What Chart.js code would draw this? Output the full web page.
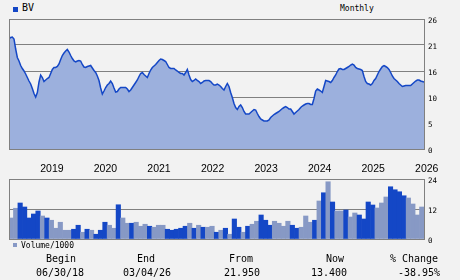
<!DOCTYPE html>
<html>
<head>
<meta charset="utf-8">
<script src="https://cdn.jsdelivr.net/npm/chart.js@4.4.1/dist/chart.umd.min.js"></script>
<style>
  body { margin: 0; background: #f2f2f2; width: 460px; height: 280px; overflow: hidden; position: relative; font-family: 'DejaVu Sans Mono', monospace; color: #000; }
  canvas { position: absolute; left: 0; }
  .t { position: absolute; white-space: nowrap; }
  .sq { position: absolute; width: 5px; height: 5px; }
  .col { position: absolute; width: 100px; text-align: center; font-size: 10px; line-height: 10px; }
</style>
</head>
<body>
<div class="sq" style="left:13px;top:7px;background:#1447c6"></div>
<div class="t" style="left:22px;top:3px;font-size:10px;line-height:10px">BV</div>
<div class="t" style="left:340px;top:5px;font-size:8px;line-height:8px">Monthly</div>

<canvas id="priceChart" width="460" height="180" style="top:0"></canvas>
<canvas id="volChart" width="460" height="80" style="top:170px"></canvas>

<div class="sq" style="left:13px;top:243px;width:4px;height:4px;background:#8799c5"></div>
<div class="t" style="left:21px;top:242px;font-size:8px;line-height:8px">Volume/1000</div>

<div class="col" style="left:11px;top:254px">Begin</div>
<div class="col" style="left:96px;top:254px">End</div>
<div class="col" style="left:191px;top:254px">From</div>
<div class="col" style="left:285px;top:254px">Now</div>
<div class="col" style="left:364px;top:254px">% Change</div>
<div class="col" style="left:10px;top:268px">06/30/18</div>
<div class="col" style="left:97px;top:268px">03/04/26</div>
<div class="col" style="left:192px;top:268px">21.950</div>
<div class="col" style="left:279px;top:268px">13.400</div>
<div class="col" style="left:369px;top:268px">-38.95%</div>

<script>
// price, sampled evenly from 06/30/18 (month 0) to 03/04/26 (month 93)
const price = [
  22.0, 22.3, 22.4, 22.0, 20.0, 18.3, 17.6, 16.7, 16.1, 15.6,
  15.0, 14.3, 13.6, 13.0, 12.1, 11.1, 10.4, 11.3, 13.4, 14.8,
  14.3, 13.5, 13.8, 14.1, 14.3, 15.1, 15.9, 16.3, 16.3, 16.5,
  17.0, 17.9, 18.7, 19.2, 19.6, 19.9, 19.4, 18.7, 18.1, 17.6,
  17.4, 17.6, 17.7, 17.6, 16.9, 16.4, 16.3, 16.5, 16.6, 16.7,
  16.2, 15.7, 15.3, 14.6, 13.7, 12.2, 11.0, 11.6, 12.3, 12.8,
  13.1, 13.6, 13.1, 12.2, 11.4, 11.5, 12.0, 12.3, 12.3, 12.3,
  12.3, 12.0, 11.5, 11.8, 12.3, 12.8, 13.3, 13.8, 14.5, 15.1,
  15.3, 14.9, 14.6, 14.3, 15.1,
  15.8, 16.3, 16.6, 16.9, 17.3, 17.7, 18.0, 17.9, 17.7, 17.5,
  16.9, 16.3, 16.1, 16.1, 16.1, 15.8, 15.6, 15.3, 15.1, 15.1,
  14.8, 15.3, 15.9, 14.8, 13.9, 13.5, 13.7, 14.0, 13.7, 13.5,
  13.1, 13.3, 13.6, 13.7, 13.7, 13.7, 13.5, 13.1, 12.8, 12.8,
  13.0, 12.8, 12.5, 12.1, 11.8, 12.5, 13.1, 12.5, 11.3, 10.3,
  9.1, 8.3, 7.9, 8.5, 8.8, 8.3, 7.5, 7.0, 7.0, 7.0,
  7.3, 7.6, 7.9, 7.8, 7.1, 6.5, 6.0, 5.8, 5.6, 5.6,
  5.6, 5.8, 6.3, 6.6, 6.9, 7.1, 7.3, 7.5, 7.8, 8.1,
  8.3, 8.5, 8.3, 8.0,
  8.0, 7.5, 7.0, 7.3, 7.6, 7.9, 8.3, 8.6, 8.8, 9.0,
  9.1, 9.1, 8.9, 8.9, 10.1, 11.6, 12.0, 11.8, 11.6, 11.3,
  12.5, 13.7, 13.6, 13.5, 13.3, 13.7, 14.3, 14.8, 15.5, 16.0,
  16.1, 15.9, 15.9, 16.1, 16.3, 16.5, 16.8, 17.0, 16.8, 16.3,
  16.1, 16.0, 15.9, 15.7, 14.5, 13.5, 13.1, 13.0, 12.8, 13.1,
  13.7, 14.1, 14.8, 15.5, 16.0, 16.5, 16.7, 16.5, 16.3, 15.9,
  15.3, 14.6, 14.1, 13.8, 13.5, 13.1, 12.8, 12.5, 12.6, 12.7,
  12.7, 12.7, 12.7, 13.0, 13.3, 13.6, 13.8, 13.8, 13.6, 13.5,
  13.4
];
const LAST_MONTH = 93;

// monthly volume (thousands), 1 = up month (dark bar)
const volume = [
  8.4, 12.3, 14.4, 12.8, 8.4, 10.0, 11.2, 9.2, 8.4, 7.5,
  4.3, 6.7, 3.5, 3.5, 3.9, 5.5, 2.7, 3.9, 3.5, 1.9,
  3.5, 6.7, 5.5, 4.3, 13.7, 8.4, 6.3, 6.3, 6.7, 5.1,
  5.9, 5.1, 4.7, 5.5, 5.5, 3.9, 3.5, 3.9, 4.3, 5.1,
  6.3, 4.3, 5.5, 4.7, 4.7, 5.1, 2.7, 3.5, 4.3, 1.9,
  8.0, 4.7, 2.7, 5.1, 5.9, 7.1, 9.6, 7.5, 5.5, 7.1,
  6.3, 5.1, 7.1, 5.5, 4.3, 4.7, 9.2, 6.7, 7.5, 15.2,
  18.5, 22.9, 14.8, 11.2, 11.2, 11.6, 8.8, 10.4, 9.6, 8.0,
  14.8, 13.6, 12.4, 14.4, 16.8, 20.9, 19.7, 18.9, 17.3, 16.4,
  14.0, 9.6, 12.8
];
const volUp = [
  0, 0, 1, 1, 1, 1, 1, 0, 1, 0,
  0, 0, 0, 0, 1, 1, 0, 1, 0, 1,
  1, 1, 0, 0, 1, 0, 0, 1, 0, 0,
  0, 1, 0, 0, 0, 1, 1, 1, 1, 1,
  0, 1, 0, 1, 0, 0, 1, 0, 1, 0,
  1, 1, 0, 1, 0, 0, 1, 1, 1, 0,
  0, 0, 0, 1, 1, 0, 0, 0, 1, 0,
  1, 0, 1, 0, 0, 1, 0, 0, 1, 1,
  1, 1, 0, 0, 0, 1, 1, 1, 1, 0,
  0, 0, 0
];

// x ticks: January of each year, as months since 06/2018
const yearTicks = [7, 19, 31, 43, 55, 67, 79, 91];
const yearLabels = ['2019', '2020', '2021', '2022', '2023', '2024', '2025', '2026'];
const priceTicks = [0, 5.2, 10.4, 15.6, 20.8, 26];
const priceTickLabels = ['0', '5', '10', '16', '21', '26'];
const volTicks = [0, 12, 24];
const volTickLabels = ['0', '12', '24'];

const BLUE = '#1447c6';
const LIGHT = '#8799c5';
const AREA = '#9cb0dd';
const GRID = '#808080';

// grey box round the plot area
const frame = {
  id: 'frame',
  afterDatasetsDraw(chart) {
    const { ctx, chartArea: a } = chart;
    ctx.save();
    ctx.strokeStyle = GRID;
    ctx.lineWidth = 1;
    ctx.strokeRect(a.left + 0.5, a.top + 0.5, a.right - a.left, a.bottom - a.top);
    ctx.restore();
  }
};

const axisFont = { family: 'DejaVu Sans Mono', size: 7.5 };

new Chart(document.getElementById('priceChart').getContext('2d'), {
  type: 'line',
  data: {
    datasets: [{
      data: price.map((v, i) => ({ x: i * LAST_MONTH / (price.length - 1), y: v })),
      borderColor: BLUE,
      borderWidth: 1.5,
      backgroundColor: AREA,
      fill: 'origin',
      pointRadius: 0,
      tension: 0,
    }]
  },
  options: {
    responsive: false,
    animation: false,
    devicePixelRatio: 1,
    layout: { padding: { left: 9, top: 19 } },
    plugins: { legend: { display: false }, tooltip: { enabled: false } },
    scales: {
      x: {
        type: 'linear', min: 0, max: LAST_MONTH,
        grid: { display: false, drawTicks: false },
        border: { display: false },
        afterBuildTicks: s => { s.ticks = yearTicks.map(v => ({ value: v })); },
        afterFit: s => { s.height = 31; },
        ticks: {
          align: 'start', padding: 14, maxRotation: 0, autoSkip: false, color: '#000',
          font: { family: 'Liberation Sans', size: 10.5 },
          callback: (v, i) => yearLabels[i],
        }
      },
      y: {
        position: 'right', min: 0, max: 26,
        grid: { color: GRID, drawTicks: false },
        border: { display: false },
        afterBuildTicks: s => { s.ticks = priceTicks.map(v => ({ value: v })); },
        afterFit: s => { s.width = 36; },
        ticks: { padding: 4, labelOffset: 2, color: '#000', font: axisFont, callback: (v, i) => priceTickLabels[i] }
      }
    }
  },
  plugins: [frame]
});

new Chart(document.getElementById('volChart').getContext('2d'), {
  type: 'bar',
  data: {
    labels: volume.map((_, i) => i),
    datasets: [{
      data: volume,
      backgroundColor: volUp.map(u => u ? BLUE : LIGHT),
      categoryPercentage: 1,
      barPercentage: 1,
      borderWidth: 0,
    }]
  },
  options: {
    responsive: false,
    animation: false,
    devicePixelRatio: 1,
    layout: { padding: { left: 9, top: 9, bottom: 11 } },
    plugins: { legend: { display: false }, tooltip: { enabled: false } },
    scales: {
      x: { display: false },
      y: {
        position: 'right', min: 0, max: 24,
        grid: { color: GRID, drawTicks: false },
        border: { display: false },
        afterBuildTicks: s => { s.ticks = volTicks.map(v => ({ value: v })); },
        afterFit: s => { s.width = 36; },
        ticks: { padding: 4, labelOffset: 2, color: '#000', font: axisFont, callback: (v, i) => volTickLabels[i] }
      }
    }
  },
  plugins: [frame]
});
</script>
</body>
</html>
